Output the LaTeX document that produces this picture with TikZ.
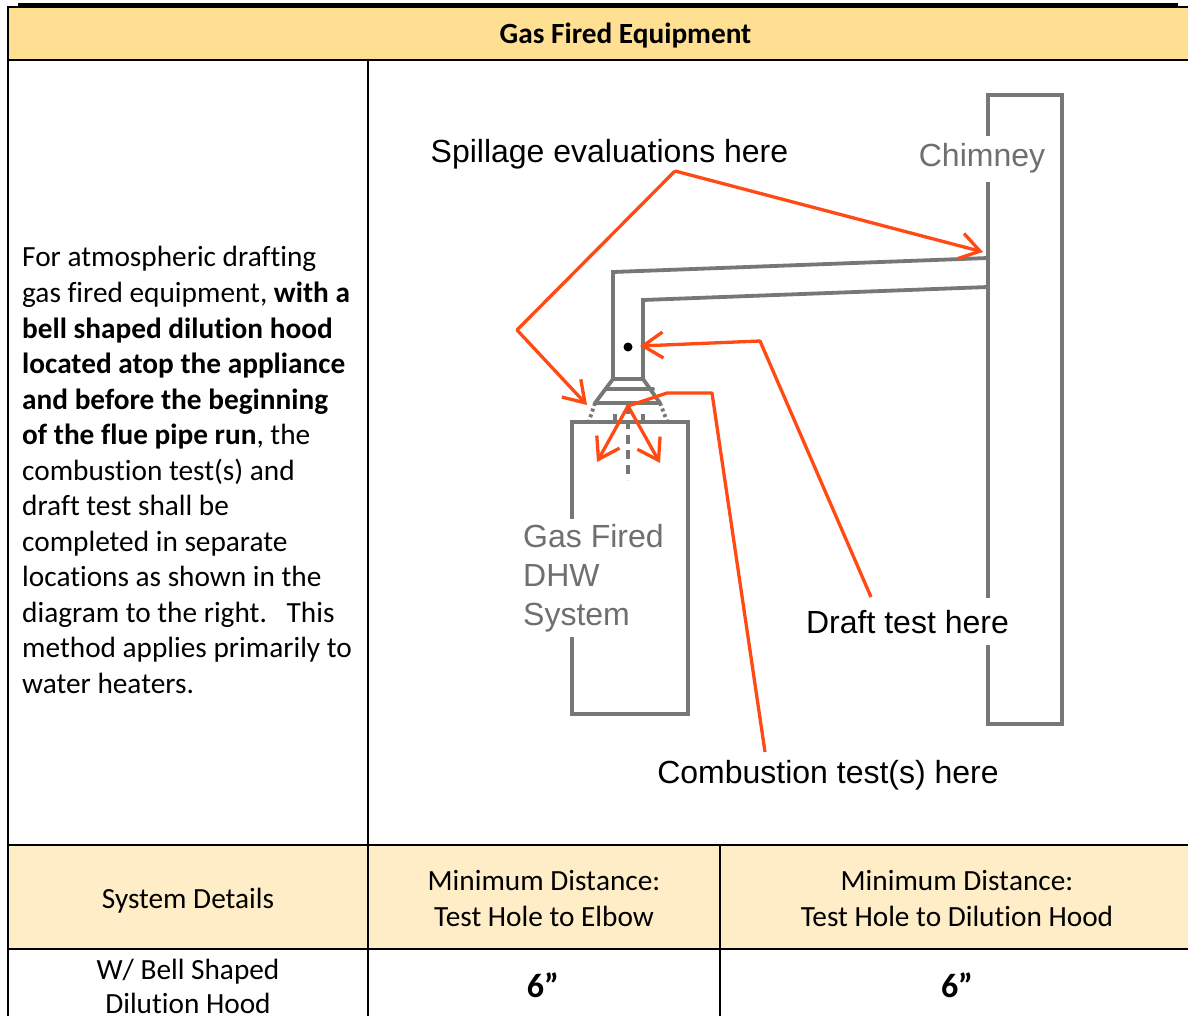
\documentclass[tikz,border=0pt]{standalone}
\usepackage{fontspec}
\setmainfont{Carlito}[Ligatures={NoCommon,NoRequired,NoContextual}]
\newfontfamily\arialfont{Liberation Sans}
\usetikzlibrary{arrows.meta, positioning}

\definecolor{hdryellow}{HTML}{FFDF91}
\definecolor{rowyellow}{HTML}{FEEDC6}
\definecolor{pipegray}{HTML}{767875}
\definecolor{lblgray}{HTML}{6E706D}
\definecolor{flameline}{HTML}{FF4A14}

% keeps t and i apart
\newcommand{\brk}{\kern0pt}

\tikzset{
  grid/.style={draw=black, line width=2pt},
  pipe/.style={draw=pipegray, line width=3.8pt, line cap=round},
  arr/.style={draw=flameline, line width=3.3pt, line join=round, -{Straight Barb[length=20pt, width=26pt]}},
  line/.style={draw=flameline, line width=3.3pt, line join=round},
  para/.style={anchor=base west, inner sep=0pt, font=\fontsize{29.3}{35.5}\selectfont},
  cell/.style={anchor=base, inner sep=0pt, font=\fontsize{29.3}{35.5}\selectfont},
  lbl/.style={anchor=base, inner sep=3pt, font=\arialfont\fontsize{32}{39}\selectfont},
}

\begin{document}
\begin{tikzpicture}[x=1pt, y=-1pt]
  \useasboundingbox (0,0) rectangle (1188,1016);

  % table fills and rules
  \fill[hdryellow] (8,8) rectangle (1188,60);
  \fill[rowyellow] (8,845) rectangle (1188,949);
  \fill[black] (18,3) rectangle (1178,8);
  \draw[grid] (7,7.5) -- (1188,7.5);
  \draw[grid] (8,7) -- (8,1016);
  \draw[grid] (8,60) -- (1188,60);
  \draw[grid] (368,60) -- (368,1016);
  \draw[grid] (8,845) -- (1188,845);
  \draw[grid] (8,949) -- (1188,949);
  \draw[grid] (720,845) -- (720,1016);

  \node[cell, font=\bfseries\fontsize{29.3}{35.5}\selectfont] (ttl) at (625.5,44) {Gas Fired Equipment};

  % left column text
  \foreach \ln [count=\i] in {
      {For atmospheric drafting},
      {gas fired equipment, \textbf{with a}},
      {\textbf{bell shaped dilut\brk ion hood}},
      {\textbf{located atop the appliance}},
      {\textbf{and before the beginning}},
      {\textbf{of the flue pipe run}, the},
      {combust\brk ion test(s) and},
      {draft test shall be},
      {completed in separate},
      {locations as shown in the},
      {diagram to the right.\ \ \ This},
      {method applies primarily to},
      {water heaters.}}
    \node[para] (p\i) at (22,{231.5+35.5*\i}) {\ln};

  % chimney, flue pipe, hood and tank
  \draw[pipe] (988,95) rectangle (1062,724);
  \draw[pipe] (613,379) -- (613,272) -- (988,258);
  \draw[pipe] (643,379) -- (643,300) -- (988,287);
  \draw[pipe, line join=round] (613,379) -- (643,379) -- (660,403) -- (595,403) -- cycle;
  \draw[pipe] (606,389) -- (653,389);
  \draw[pipe, dashed, line cap=butt] (595,403) -- (589,421);
  \draw[pipe, dashed, line cap=butt] (660,403) -- (667,421);
  \draw[pipe, line cap=butt] (615,414) -- (615,421);
  \draw[pipe, line cap=butt] (643,414) -- (643,421);
  \draw[pipe, line cap=butt, dash pattern=on 9pt off 6pt] (628,405) -- (628,480);
  \draw[pipe] (572,422) rectangle (688,714);
  \fill[black] (628,347) circle (4.5pt);

  % test point coordinates
  \coordinate (sp) at (675,171);
  \coordinate (spL) at (517,330);
  \coordinate (spHood) at (587,405);
  \coordinate (spChim) at (983,252);
  \coordinate (dr) at (871,597);
  \coordinate (drK) at (760,341);
  \coordinate (drHole) at (640,346);
  \coordinate (cb) at (765,752);
  \coordinate (cbK1) at (712,393);
  \coordinate (cbK2) at (667,393);
  \coordinate (cbJ) at (628,406);
  \coordinate (cbL) at (597,462);
  \coordinate (cbR) at (660,463);

  % arrows
  \draw[arr] (sp) -- (spChim);
  \draw[arr] (sp) -- (spL) -- (spHood);
  \draw[arr] (dr) -- (drK) -- (drHole);
  \draw[line] (cb) -- (cbK1) -- (cbK2) -- (cbJ);
  \draw[arr] (cbJ) -- (cbL);
  \draw[arr] (cbJ) -- (cbR);

  % labels
  \node[lbl] (spill) at (609.5,163) {Spillage evaluations here};
  \node[lbl, fill=white, text=lblgray, inner ysep=8pt] (chim) at (982,167) {Chimney};
  \node[lbl, fill=white, text=lblgray, anchor=north west, align=left, inner sep=5pt] (dhw) at (518,519) {Gas Fired\\DHW\\System};
  \node[lbl, fill=white, inner ysep=12pt] (draft) at (907.5,633) {Draft test here};
  \node[lbl] (comb) at (828,783) {Combustion test(s) here};

  % bottom table
  \node[cell] (sd) at (188,908) {System Details};
  \node[cell] (md1) at (544,890) {Minimum Dist\brk ance:};
  \node[cell] (th1) at (544,926) {Test Hole to Elbow};
  \node[cell] (md2) at (957,890) {Minimum Dist\brk ance:};
  \node[cell] (th2) at (957,926) {Test Hole to Dilut\brk ion Hood};
  \node[cell] (wb) at (188,979) {W/ Bell Shaped};
  \node[cell] (dh) at (188,1013) {Dilut\brk ion Hood};
  \node[cell, font=\bfseries\fontsize{34}{40}\selectfont] (six1) at (543,997) {6”};
  \node[cell, font=\bfseries\fontsize{34}{40}\selectfont] (six2) at (957,997) {6”};
\end{tikzpicture}
\end{document}
